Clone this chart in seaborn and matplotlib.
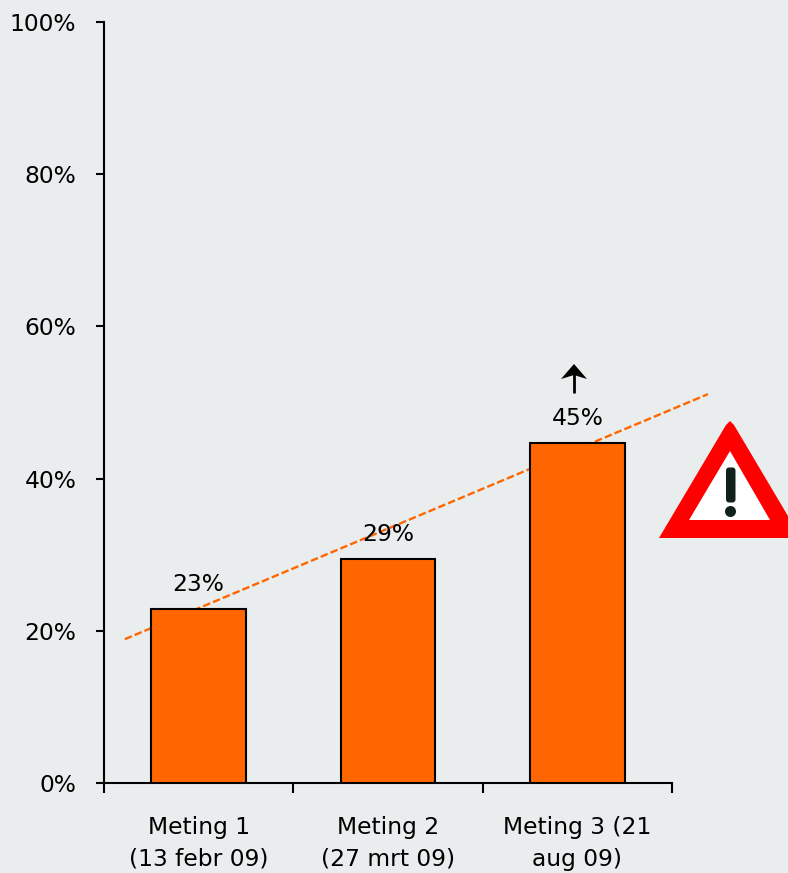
import matplotlib
matplotlib.use("Agg")
import matplotlib.pyplot as plt
import seaborn as sns
import pandas as pd
from matplotlib.patches import Polygon, Circle, FancyBboxPatch

# data
categories = ["Meting 1\n(13 febr 09)", "Meting 2\n(27 mrt 09)", "Meting 3 (21\naug 09)"]
values = [22.9, 29.4, 44.7]
value_labels = ["23%", "29%", "45%"]
trend_x = [-0.39, 2.69]
trend_y = [18.9, 51.1]
y_ticks = [0, 20, 40, 60, 80, 100]
y_tick_labels = ["0%", "20%", "40%", "60%", "80%", "100%"]

BG = "#E9EDEE"
ORANGE = "#FF6600"
W, H = 788, 873
FONT = 16.8

sns.set_theme(style="white")
plt.rcParams["font.family"] = ["DejaVu Sans"]

fig = plt.figure(figsize=(W / 100, H / 100), dpi=100, facecolor=BG)
ax = fig.add_axes([104 / W, (H - 783) / H, 568 / W, 761 / H], facecolor=BG)

df = pd.DataFrame({"meting": categories, "waarde": values})
sns.barplot(data=df, x="meting", y="waarde", color=ORANGE, saturation=1, width=0.5,
            edgecolor="black", linewidth=1.5, zorder=3, ax=ax)

# trend line runs behind the bars
ax.plot(trend_x, trend_y, color=ORANGE, lw=1.7, ls=(0, (3.2, 1.3)), zorder=2, clip_on=False)

ax.bar_label(ax.containers[0], labels=value_labels, padding=9.5, fontsize=FONT, color="black")

ax.set_xlim(-0.5, 2.5)
ax.set_ylim(0, 100)
ax.set_xlabel("")
ax.set_ylabel("")
ax.set_yticks(y_ticks)
ax.set_yticklabels(y_tick_labels, fontsize=FONT, color="black")
ax.set_xticks([-0.5, 0.5, 1.5, 2.5])
ax.set_xticklabels([])
ax.set_xticks([0, 1, 2], categories, minor=True, fontsize=FONT, color="black", linespacing=1.5)
ax.tick_params(axis="x", which="major", direction="out", length=7, width=1.5, color="black", bottom=True)
ax.tick_params(axis="x", which="minor", length=0, pad=23.5, bottom=True)
ax.tick_params(axis="y", direction="out", length=6, width=1.5, color="black", left=True, pad=14)

sns.despine(ax=ax)
for side in ["left", "bottom"]:
    ax.spines[side].set_linewidth(1.5)
    ax.spines[side].set_color("black")

# overlay in pixel coordinates for the warning sign and arrow
ov = fig.add_axes([0, 0, 1, 1], facecolor="none")
ov.set_xlim(0, W)
ov.set_ylim(H, 0)
ov.axis("off")

ov.add_patch(Polygon([(659, 538), (726, 425), (730, 421), (734, 425), (801, 538)], closed=True,
                     fc="#FF0000", ec="none"))
ov.add_patch(Polygon([(689, 520), (730, 451), (770, 520)], closed=True, fc="white", ec="none"))
ov.add_patch(FancyBboxPatch((728.5, 470), 4.5, 30, boxstyle="round,pad=2.5,rounding_size=3",
                            fc="#10201C", ec="none"))
ov.add_patch(Circle((730.5, 511.5), 5.5, fc="#10201C", ec="none"))

ov.plot([574, 574], [374, 393], color="black", lw=2, solid_capstyle="butt")
ov.add_patch(Polygon([(574, 364), (587, 379), (574, 375), (561, 379)], closed=True, fc="black", ec="none"))

fig.savefig("out.png", dpi=100, facecolor=BG)
